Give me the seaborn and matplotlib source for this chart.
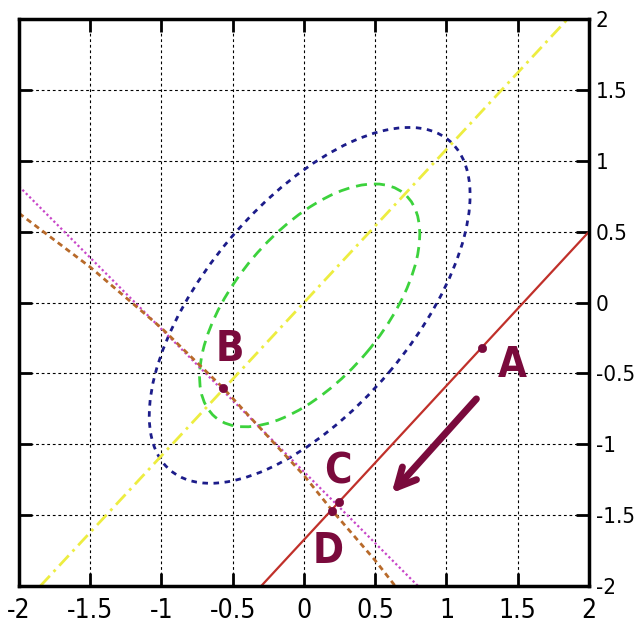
import numpy as np
import pandas as pd
import seaborn as sns
import matplotlib.pyplot as plt
from matplotlib.patches import Ellipse
from matplotlib import font_manager

# chart values
ticks = [-2, -1.5, -1, -0.5, 0, 0.5, 1, 1.5, 2]
tick_labels = ["-2", "-1.5", "-1", "-0.5", "0", "0.5", "1", "1.5", "2"]

# ellipse contours: center, half-axes, angle (deg)
ellipse_center = (0.04, -0.02)
blue_axes = (1.52, 0.73)
green_axes = (1.03, 0.52)
ellipse_angle = 50

# straight lines (end points)
yellow_x = [-1.85, 1.85]
yellow_y = [-2.0, 2.0]
red_x = [-0.3, 2.0]
red_y = [-2.0, 0.5]
magenta_x = [-2.0, 0.8]
magenta_y = [0.82, -2.0]

# brown curve, read point by point
brown_x = [-2.0, -1.5, -1.0, -0.57, 0.0, 0.2, 0.5, 0.64]
brown_y = [0.63, 0.25, -0.18, -0.6, -1.22, -1.47, -1.82, -2.0]

# marked points and their labels
pt_names = ["A", "B", "C", "D"]
pt_x = [1.25, -0.57, 0.243, 0.2]
pt_y = [-0.32, -0.6, -1.405, -1.469]
lbl_x = [1.46, -0.52, 0.24, 0.17]
lbl_y = [-0.44, -0.33, -1.19, -1.75]

arrow_from = (1.21, -0.68)
arrow_to = (0.615, -1.345)

maroon = "#7a0a3c"

sns.set_style("white")

# use a condensed face if one is installed
cond = font_manager.FontProperties(family="DejaVu Sans", stretch="condensed")
has_cond = "Condensed" in font_manager.findfont(cond)
plt.rcParams['font.family'] = ['DejaVu Sans']
if has_cond:
    base = dict(family="DejaVu Sans", stretch="condensed")
else:
    base = dict(family="Liberation Sans")
xtick_font = dict(base, size=19)
ytick_font = dict(base, size=16)
lbl_font = dict(base, size=30)

fig = plt.figure(figsize=(6.37, 6.32), dpi=100)
ax = fig.add_axes([0.0298, 0.0728, 0.8948, 0.897])

# grid
for t in ticks[1:-1]:
    ax.axvline(t, color="black", lw=0.8, ls=(0, (2.5, 2.5)), zorder=0)
    ax.axhline(t, color="black", lw=0.8, ls=(0, (2.5, 2.5)), zorder=0)

# ellipses
ax.add_patch(Ellipse(ellipse_center, 2 * blue_axes[0], 2 * blue_axes[1], angle=ellipse_angle,
                     fill=False, ec="#1c1c8a", lw=2, ls=(0, (2, 2))))
ax.add_patch(Ellipse(ellipse_center, 2 * green_axes[0], 2 * green_axes[1], angle=ellipse_angle,
                     fill=False, ec="#3cd23c", lw=2, ls=(0, (4, 2.5))))

# lines
sns.lineplot(x=yellow_x, y=yellow_y, ax=ax, color="#eded40", lw=2, ls=(0, (5, 2, 1, 2)))
sns.lineplot(x=red_x, y=red_y, ax=ax, color="#c0302a", lw=1.6)
sns.lineplot(x=magenta_x, y=magenta_y, ax=ax, color="#c846c8", lw=1.6, ls=(0, (1, 1.2)))
sns.lineplot(x=brown_x, y=brown_y, ax=ax, color="#b86a2a", lw=2, ls=(0, (2, 1.5)), sort=False)

# points
df_pts = pd.DataFrame({"x": pt_x, "y": pt_y})
sns.scatterplot(data=df_pts, x="x", y="y", ax=ax, color=maroon, s=36, edgecolor=maroon, zorder=5)
for name, lx, ly in zip(pt_names, lbl_x, lbl_y):
    ax.text(lx, ly, name, color=maroon, fontweight="bold",
            ha="center", va="center", zorder=6, **lbl_font)

ax.annotate("", xy=arrow_to, xytext=arrow_from,
            arrowprops=dict(arrowstyle="->", color=maroon, lw=5, mutation_scale=34,
                            shrinkA=0, shrinkB=0))

ax.set_xlim(-2, 2)
ax.set_ylim(-2, 2)
ax.set_xticks(ticks)
ax.set_yticks(ticks)
ax.set_xticklabels(tick_labels, **xtick_font)
ax.set_yticklabels(tick_labels, **ytick_font)
ax.set_xlabel("")
ax.set_ylabel("")
ax.tick_params(direction="in", length=9.5, width=2, top=True, right=True, left=True, bottom=True,
               labelleft=False, labelright=True, colors="black")
ax.tick_params(axis="x", pad=9)
ax.tick_params(axis="y", pad=5)
for s in ax.spines.values():
    s.set_linewidth(2.5)
    s.set_color("black")

fig.savefig("out.png", dpi=100)
